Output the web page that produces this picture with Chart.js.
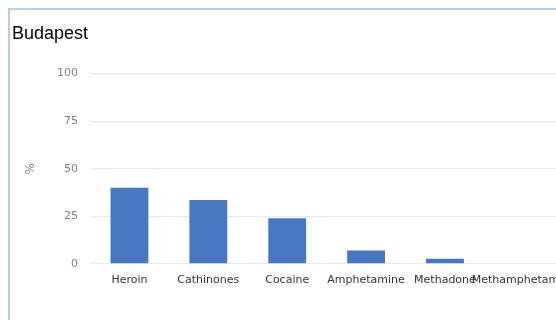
<!DOCTYPE html>
<html lang="en">
<head>
  <meta charset="utf-8">
  <title>Budapest</title>
  <script src="https://cdn.jsdelivr.net/npm/chart.js@4.4.1/dist/chart.umd.min.js"></script>
  <style>
    html, body { margin: 0; padding: 0; background: #fff; overflow: hidden; }
    #box {
      position: absolute;
      left: 8px;
      top: 8px;
      width: 600px;
      height: 340px;
      border-left: 2px solid #b9cde6;
      border-top: 2px solid #b9cde6;
    }
    #holder { position: absolute; left: 0; top: 0; width: 568px; height: 300px; }
  </style>
</head>
<body>
  <div id="box">
    <div id="holder"><canvas id="chart"></canvas></div>
  </div>
  <script>
    const categories = ['Heroin', 'Cathinones', 'Cocaine', 'Amphetamine', 'Methadone', 'Methamphetamine'];
    const shares = [40, 33.5, 24, 7, 2.6, 0];
    const yTicks = [0, 25, 50, 75, 100];

    const tickFont = { family: '"DejaVu Sans", sans-serif', size: 11 };

    const config = {
      type: 'bar',
      data: {
        labels: categories,
        datasets: [{
          label: 'Budapest',
          data: shares,
          backgroundColor: '#4a77c1',
          barPercentage: 0.6,
          categoryPercentage: 0.8,
        }]
      },
      options: {
        responsive: true,
        maintainAspectRatio: false,
        animation: false,
        layout: { padding: { top: 13, left: 2, right: 0, bottom: 21 } },
        plugins: {
          legend: { display: false },
          tooltip: { enabled: false },
          title: {
            display: true,
            text: 'Budapest',
            align: 'start',
            color: '#000',
            font: { family: '"Liberation Sans", Arial, sans-serif', size: 18, weight: 'normal' },
            padding: { top: 0, bottom: 29 }
          }
        },
        scales: {
          x: {
            grid: { display: false },
            border: { display: false },
            ticks: { color: '#333', font: tickFont, maxRotation: 0, autoSkip: false, padding: 2 }
          },
          y: {
            min: 0,
            max: 100,
            afterBuildTicks: (scale) => { scale.ticks = yTicks.map(v => ({ value: v })); },
            afterFit: (scale) => { scale.width = 78; },
            grid: { color: '#e8e8e8', drawTicks: false },
            border: { display: false },
            ticks: { color: '#808080', font: tickFont, padding: 12 },
            title: {
              display: true,
              text: '%',
              color: '#888',
              font: { family: '"DejaVu Sans", sans-serif', size: 12 },
              padding: { top: 12, bottom: 0 }
            }
          }
        }
      }
    };

    new Chart(document.getElementById('chart'), config);
  </script>
</body>
</html>
